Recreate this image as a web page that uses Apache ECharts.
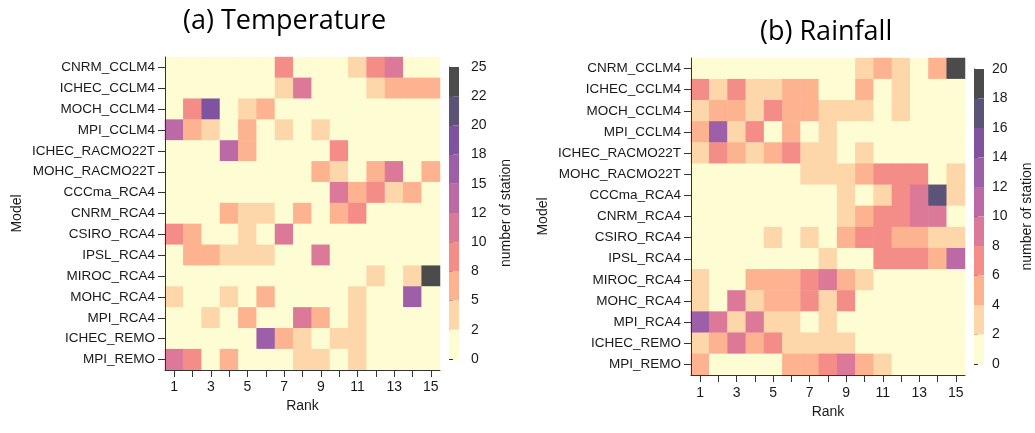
<!DOCTYPE html>
<html lang="en">
<head>
    <meta charset="UTF-8">
    <title>Rank histograms</title>
    <script src="https://cdn.jsdelivr.net/npm/echarts@6/dist/echarts.min.js"></script>
    <style>
        body { margin: 0; background: #fff; }
    </style>
</head>
<body>
<div id="main" style="width: 1035px; height: 433px;"></div>
<script>
    var models = ['CNRM_CCLM4', 'ICHEC_CCLM4', 'MOCH_CCLM4', 'MPI_CCLM4', 'ICHEC_RACMO22T',
        'MOHC_RACMO22T', 'CCCma_RCA4', 'CNRM_RCA4', 'CSIRO_RCA4', 'IPSL_RCA4',
        'MIROC_RCA4', 'MOHC_RCA4', 'MPI_RCA4', 'ICHEC_REMO', 'MPI_REMO'];
    var ranks = ['1', '2', '3', '4', '5', '6', '7', '8', '9', '10', '11', '12', '13', '14', '15'];

    // number of stations per rank, one row per model (temperature)
    var tempCounts = [
        [0, 0, 0, 0, 0, 0, 9, 0, 0, 0, 4, 9, 11, 0, 0],
        [0, 0, 0, 0, 0, 0, 4, 11, 0, 0, 0, 4, 6, 6, 6],
        [0, 9, 19, 0, 4, 6, 0, 0, 0, 0, 0, 0, 0, 0, 0],
        [14, 6, 4, 0, 6, 0, 4, 0, 4, 0, 0, 0, 0, 0, 0],
        [0, 0, 0, 14, 6, 0, 0, 0, 0, 9, 0, 0, 0, 0, 0],
        [0, 0, 0, 0, 0, 0, 0, 0, 6, 4, 0, 6, 11, 0, 6],
        [0, 0, 0, 0, 0, 0, 0, 0, 0, 11, 6, 9, 4, 6, 0],
        [0, 0, 0, 6, 4, 4, 0, 6, 0, 6, 9, 0, 0, 0, 0],
        [9, 6, 0, 0, 4, 0, 11, 0, 0, 0, 0, 0, 0, 0, 0],
        [0, 6, 6, 4, 4, 4, 0, 0, 11, 0, 0, 0, 0, 0, 0],
        [0, 0, 0, 0, 0, 0, 0, 0, 0, 0, 0, 4, 0, 4, 24],
        [4, 0, 0, 4, 0, 6, 0, 0, 0, 0, 4, 0, 0, 16, 0],
        [0, 0, 4, 0, 6, 0, 0, 11, 6, 0, 4, 0, 0, 0, 0],
        [0, 0, 0, 0, 0, 16, 6, 4, 0, 4, 4, 0, 0, 0, 0],
        [11, 9, 0, 6, 0, 0, 0, 4, 4, 0, 4, 0, 0, 0, 0]
    ];

    // rainfall
    var rainCounts = [
        [0, 0, 0, 0, 0, 0, 0, 0, 0, 3, 5, 3, 0, 5, 19],
        [7, 3, 7, 3, 3, 5, 5, 0, 0, 5, 0, 3, 0, 0, 0],
        [3, 5, 5, 3, 7, 5, 5, 3, 3, 3, 0, 3, 0, 0, 0],
        [5, 13, 3, 7, 0, 5, 0, 3, 0, 0, 0, 0, 0, 0, 0],
        [3, 7, 5, 3, 5, 7, 3, 3, 0, 3, 0, 0, 0, 0, 0],
        [0, 0, 0, 0, 0, 0, 3, 3, 3, 5, 7, 7, 7, 0, 3],
        [0, 0, 0, 0, 0, 0, 0, 0, 3, 0, 3, 7, 9, 17, 3],
        [0, 0, 0, 0, 0, 0, 0, 0, 3, 5, 7, 7, 9, 9, 0],
        [0, 0, 0, 0, 3, 0, 3, 0, 5, 7, 7, 5, 5, 3, 3],
        [0, 0, 0, 0, 0, 0, 0, 3, 0, 0, 7, 7, 7, 5, 11],
        [3, 0, 0, 5, 5, 5, 7, 9, 5, 3, 0, 0, 0, 0, 0],
        [3, 0, 9, 3, 5, 5, 7, 3, 7, 0, 0, 0, 0, 0, 0],
        [13, 9, 3, 9, 3, 3, 0, 3, 0, 0, 0, 0, 0, 0, 0],
        [3, 5, 9, 5, 7, 3, 3, 3, 3, 0, 0, 0, 0, 0, 0],
        [5, 0, 0, 0, 0, 5, 5, 7, 9, 5, 3, 0, 0, 0, 0]
    ];

    var palette = ['#fdfcd3', '#fdd6a9', '#fdb290', '#f48c88', '#dc7898',
        '#bc6aa6', '#9d60a8', '#8053a0', '#5b5478', '#4b4b4b'];
    var tempBreaks = [0, 2.5, 5, 7.5, 10, 12.5, 15, 17.5, 20, 22.5, 25];
    var tempBarLabels = ['0', '2', '5', '8', '10', '12', '15', '18', '20', '22', '25'];
    var rainBreaks = [0, 2, 4, 6, 8, 10, 12, 14, 16, 18, 20];
    var rainBarLabels = ['0', '2', '4', '6', '8', '10', '12', '14', '16', '18', '20'];

    function toCells(matrix) {
        var out = [];
        for (var r = 0; r < matrix.length; r++) {
            for (var c = 0; c < matrix[r].length; c++) {
                out.push([c, r, matrix[r][c]]);
            }
        }
        return out;
    }

    function pieces(breaks) {
        var p = [];
        for (var i = 0; i < breaks.length - 1; i++) {
            p.push({gte: breaks[i], lt: breaks[i + 1], color: palette[i]});
        }
        p[p.length - 1].lte = breaks[breaks.length - 1];
        delete p[p.length - 1].lt;
        return p;
    }

    var labelFont = {fontFamily: 'Liberation Sans', fontSize: 13.5, color: '#1a1a1a'};
    var lineStyle = {color: '#333', width: 1};

    function catX(gridIndex, gap, margin) {
        return {
            type: 'category', gridIndex: gridIndex, data: ranks, z: 5,
            name: 'Rank', nameLocation: 'middle', nameGap: gap,
            nameTextStyle: {fontFamily: 'Liberation Sans', fontSize: 14, color: '#1a1a1a'},
            axisLine: {show: true, lineStyle: lineStyle},
            axisTick: {show: true, interval: 0, alignWithLabel: true, length: 7, lineStyle: lineStyle},
            axisLabel: Object.assign({interval: 1, margin: margin}, labelFont, {fontSize: 14}),
            splitLine: {show: false}
        };
    }

    function catY(gridIndex) {
        return {
            type: 'category', gridIndex: gridIndex, data: models, inverse: true, z: 5,
            name: 'Model', nameLocation: 'middle', nameGap: 141,
            nameTextStyle: {fontFamily: 'Liberation Sans', fontSize: 14, color: '#1a1a1a'},
            axisLine: {show: true, lineStyle: lineStyle},
            axisTick: {show: true, interval: 0, alignWithLabel: true, length: 7, lineStyle: lineStyle},
            axisLabel: Object.assign({interval: 0, margin: 10}, labelFont),
            splitLine: {show: false}
        };
    }

    function barY(gridIndex, breaks, labels, offset) {
        var step = breaks[1] - breaks[0];
        return {
            type: 'value', gridIndex: gridIndex, position: 'right', offset: offset,
            min: breaks[0], max: breaks[breaks.length - 1], interval: step,
            name: 'number of station', nameLocation: 'middle', nameGap: 30,
            nameTextStyle: {fontFamily: 'Liberation Sans', fontSize: 14, color: '#1a1a1a'},
            axisLine: {show: true, lineStyle: lineStyle},
            axisTick: {show: true, length: 4, lineStyle: lineStyle},
            axisLabel: Object.assign({
                margin: 2,
                formatter: function (v) { return labels[Math.round(v / step)]; }
            }, labelFont, {fontSize: 14}),
            splitLine: {show: false}
        };
    }

    var chart = echarts.init(document.getElementById('main'));
    var option = {
        animation: false,
        title: [
            {text: '(a) Temperature', left: 178, top: 3,
                textStyle: {fontFamily: 'Open Sans', fontSize: 27, fontWeight: 'normal', color: '#000'}},
            {text: '(b) Rainfall', left: 755, top: 14,
                textStyle: {fontFamily: 'Open Sans', fontSize: 27, fontWeight: 'normal', color: '#000'}}
        ],
        grid: [
            {left: 165, top: 57, width: 275, height: 313},
            {left: 691, top: 58, width: 274, height: 317},
            {left: 449, top: 67, width: 10, height: 292},
            {left: 974, top: 69, width: 10, height: 295}
        ],
        xAxis: [
            catX(0, 26, 10),
            catX(1, 27, 11),
            {type: 'value', gridIndex: 2, show: false},
            {type: 'value', gridIndex: 3, show: false}
        ],
        yAxis: [
            catY(0),
            catY(1),
            barY(2, tempBreaks, tempBarLabels, 10),
            barY(3, rainBreaks, rainBarLabels, 9)
        ],
        visualMap: [
            {
                type: 'piecewise', seriesIndex: 0, dimension: 2,
                pieces: pieces(tempBreaks), selectedMode: false, showLabel: false,
                itemSymbol: 'rect', itemWidth: 10, itemHeight: 29.2, itemGap: 0,
                padding: 0, left: 449, top: 67, orient: 'vertical'
            },
            {
                type: 'piecewise', seriesIndex: 1, dimension: 2,
                pieces: pieces(rainBreaks), selectedMode: false, showLabel: false,
                itemSymbol: 'rect', itemWidth: 10, itemHeight: 29.5, itemGap: 0,
                padding: 0, left: 974, top: 69, orient: 'vertical'
            }
        ],
        series: [
            {
                name: 'Temperature', type: 'heatmap', xAxisIndex: 0, yAxisIndex: 0,
                data: toCells(tempCounts), emphasis: {disabled: true}
            },
            {
                name: 'Rainfall', type: 'heatmap', xAxisIndex: 1, yAxisIndex: 1,
                data: toCells(rainCounts), emphasis: {disabled: true}
            }
        ]
    };
    chart.setOption(option);
</script>
</body>
</html>
